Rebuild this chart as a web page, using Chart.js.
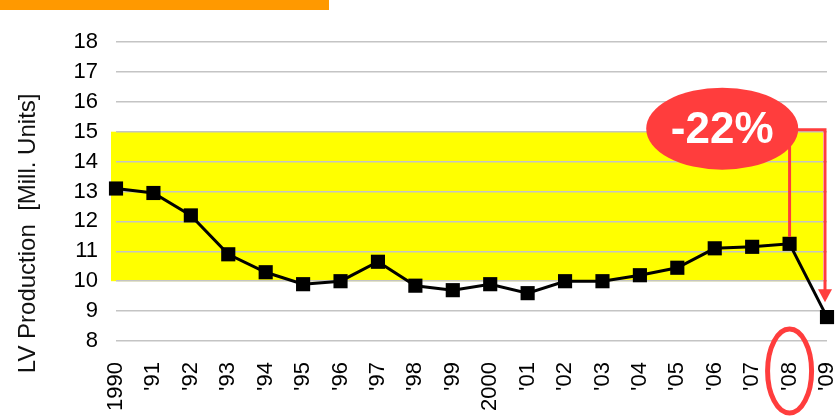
<!DOCTYPE html>
<html>
<head>
<meta charset="utf-8">
<script src="https://cdn.jsdelivr.net/npm/chart.js@4.4.0/dist/chart.umd.min.js"></script>
<style>
  body { margin: 0; background: #fff; }
  #wrap { position: relative; width: 839px; height: 420px; }
  #topBar { position: absolute; left: 0; top: 0; width: 329px; height: 10px; background: #ff9900; }
</style>
</head>
<body>
<div id="wrap">
  <canvas id="lvChart" width="839" height="420"></canvas>
  <div id="topBar"></div>
</div>
<script>
// LV production 1990-2009

const years = ['1990', "'91", "'92", "'93", "'94", "'95", "'96", "'97", "'98", "'99",
  '2000', "'01", "'02", "'03", "'04", "'05", "'06", "'07", "'08", "'09"];
const production = [13.1, 12.95, 12.2, 10.9, 10.3, 9.9, 10.0, 10.65, 9.85, 9.7,
  9.9, 9.6, 10.0, 10.0, 10.2, 10.45, 11.1, 11.15, 11.25, 8.8];
const yMin = 8;
const yMax = 18;
const bandRange = [10, 15];
const dropLabel = '-22%';
const yTitle = 'LV Production  [Mill. Units]';

const FONT = "'Liberation Sans', Arial, sans-serif";
const RED = '#ff3d3d';

const extras = {
  id: 'extras',
  beforeDraw(chart) {
    const { ctx, chartArea, scales: { x, y } } = chart;
    const top = y.getPixelForValue(bandRange[1]);
    const bottom = y.getPixelForValue(bandRange[0]);
    const left = chartArea.left - 5;
    const right = x.getPixelForValue(years.length - 1) - 4;
    ctx.save();
    ctx.fillStyle = '#ffff00';
    ctx.fillRect(left, top, right - left, bottom - top);

    // axis title, drawn by hand so it can sit a little low like the original
    ctx.translate(28, y.getPixelForValue(yMin + 3.6));
    ctx.rotate(-Math.PI / 2);
    ctx.fillStyle = '#111';
    ctx.font = '24px ' + FONT;
    ctx.textAlign = 'center';
    ctx.textBaseline = 'middle';
    ctx.fillText(yTitle, 0, 0);
    ctx.restore();
  },
  afterDraw(chart) {
    const { ctx, chartArea, scales: { x, y } } = chart;
    const last = years.length - 1;
    const x08 = x.getPixelForValue(last - 1);
    const y08 = y.getPixelForValue(production[last - 1]);
    const x09 = x.getPixelForValue(last);
    const tipY = y.getPixelForValue(9.3);
    const cx = x.getPixelForValue(16.2);
    const cy = y.getPixelForValue(15.1);

    ctx.save();
    ctx.strokeStyle = RED;
    ctx.fillStyle = RED;
    ctx.lineWidth = 3;

    // line down to '08
    ctx.beginPath();
    ctx.moveTo(x08, cy);
    ctx.lineTo(x08, y08 - 7);
    ctx.stroke();

    // arrow to '09
    ctx.beginPath();
    ctx.moveTo(cx, cy + 1);
    ctx.lineTo(x09 - 2, cy + 1);
    ctx.lineTo(x09 - 2, tipY - 12);
    ctx.stroke();
    ctx.beginPath();
    ctx.moveTo(x09 - 9, tipY - 13);
    ctx.lineTo(x09 + 5, tipY - 13);
    ctx.lineTo(x09 - 2, tipY);
    ctx.closePath();
    ctx.fill();

    // bubble
    ctx.beginPath();
    ctx.ellipse(cx, cy, 76, 41, 0, 0, Math.PI * 2);
    ctx.fill();
    ctx.fillStyle = '#ffffff';
    ctx.font = 'bold 44px ' + FONT;
    ctx.textAlign = 'center';
    ctx.textBaseline = 'middle';
    ctx.fillText(dropLabel, cx, cy + 2);

    // ring round '08 label
    ctx.lineWidth = 5;
    ctx.beginPath();
    ctx.ellipse(x08, chartArea.bottom + 30, 22, 42, 0, 0, Math.PI * 2);
    ctx.stroke();
    ctx.restore();
  }
};

new Chart(document.getElementById('lvChart').getContext('2d'), {
  type: 'line',
  data: {
    labels: years,
    datasets: [{
      data: production,
      borderColor: '#000',
      backgroundColor: '#000',
      borderWidth: 3,
      pointStyle: 'rect',
      pointRadius: 10,
      pointBorderWidth: 0,
      tension: 0
    }]
  },
  options: {
    responsive: false,
    animation: false,
    layout: { padding: { top: 42, right: 0, bottom: 0, left: 0 } },
    plugins: { legend: { display: false }, tooltip: { enabled: false } },
    scales: {
      x: {
        offset: false,
        grid: { display: false, drawTicks: false },
        border: { display: false },
        ticks: {
          minRotation: 90, maxRotation: 90, autoSkip: false, padding: 21,
          color: '#000', font: { family: FONT, size: 22 }
        },
        afterFit(scale) {
          scale.height = 79;
          scale.paddingLeft = 0;
          scale.paddingRight = 12;
        }
      },
      y: {
        min: yMin,
        max: yMax,
        grid: { color: '#c4c4c4', lineWidth: 1.5, drawTicks: false },
        border: { display: false },
        ticks: {
          stepSize: 1, padding: 18,
          color: '#000', font: { family: FONT, size: 22 }
        },
        afterFit(scale) {
          scale.width = 116;
        }
      }
    }
  },
  plugins: [extras]
});
</script>
</body>
</html>
